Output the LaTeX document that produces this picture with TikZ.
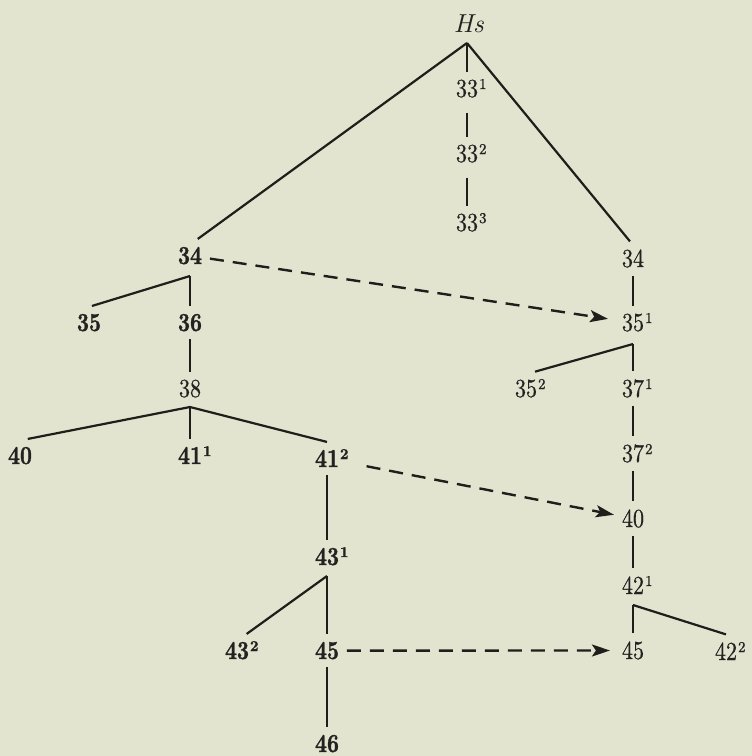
\documentclass[tikz,border=0pt]{standalone}
\usepackage{graphicx}
\usepackage{fontspec}
\setmainfont{lmroman10-regular.otf}[BoldFont=lmroman10-bold.otf, ItalicFont=lmroman10-italic.otf]
\newfontface\medface{lmroman10-regular.otf}[FakeBold=0.7]
\newfontface\hvyface{lmroman10-bold.otf}[FakeBold=1.3]
\usetikzlibrary{arrows.meta}
\definecolor{bgc}{HTML}{E3E4CF}
\definecolor{inkc}{HTML}{1E1E1A}
\definecolor{txtc}{HTML}{222220}
\newcommand\snum[2]{\scalebox{0.85}[1]{\medface #1}\rlap{\kern1pt\smash{\raisebox{8pt}{\fontsize{15}{18}\selectfont\medface #2}}}}
\newcommand\bnum[2]{\scalebox{0.8}[1]{\hvyface #1}\rlap{\kern1pt\smash{\raisebox{8pt}{\fontsize{15}{18}\selectfont\hvyface #2}}}}
\tikzset{
  lab/.style={inner xsep=8pt, inner ysep=8pt, outer sep=0pt, anchor=base,
              font=\fontsize{26}{30}\selectfont, text=txtc},
  conn/.style={line width=2.2pt, draw=inkc},
  dashconn/.style={line width=2.4pt, draw=inkc, dash pattern=on 14pt off 9pt,
                   -{Stealth[length=18pt,width=12pt,inset=4pt]}}
}
\begin{document}
\begin{tikzpicture}[x=1pt,y=-1pt]
\fill[bgc] (0,0) rectangle (752,756);
\useasboundingbox (0,0) rectangle (752,756);

% top
\node[lab] (hs) at (469,32) {\textit{Hs}};
\coordinate (aHs) at (467,43);
\node[lab] (n33a) at (467,97) {\snum{33}{1}};
\node[lab] (n33b) at (467,162) {\snum{33}{2}};
\node[lab] (n33c) at (467,231) {\snum{33}{3}};

% left tree
\node[lab] (n34L) at (190,264) {\bnum{34}{}};
\coordinate (a34L) at (190,276);
\node[lab] (n35L) at (89,331) {\bnum{35}{}};
\node[lab] (n36) at (190,331) {\bnum{36}{}};
\node[lab] (n38) at (190,397) {\snum{38}{}};
\coordinate (a38) at (190,407);
\node[lab] (n40L) at (20,464) {\bnum{40}{}};
\node[lab] (n41a) at (190,464) {\bnum{41}{1}};
\node[lab] (n41b) at (327,467) {\bnum{41}{2}};
\node[lab] (n43a) at (327,565) {\bnum{43}{1}};
\coordinate (a43) at (327,576);
\node[lab] (n43b) at (237,659) {\bnum{43}{2}};
\node[lab] (n45L) at (327,659) {\bnum{45}{}};
\node[lab] (n46) at (327,752) {\bnum{46}{}};

% right tree
\node[lab] (n34R) at (633,267) {\snum{34}{}};
\node[lab] (n35a) at (633,331) {\snum{35}{1}};
\coordinate (a35) at (633,344);
\node[lab] (n35b) at (526,397) {\snum{35}{2}};
\node[lab] (n37a) at (633,397) {\snum{37}{1}};
\node[lab] (n37b) at (633,462) {\snum{37}{2}};
\node[lab] (n40R) at (633,527) {\snum{40}{}};
\node[lab] (n42a) at (633,594) {\snum{42}{1}};
\coordinate (a42) at (633,605);
\node[lab] (n45R) at (633,659) {\snum{45}{}};
\node[lab] (n42b) at (726,660) {\snum{42}{2}};

% solid connectors
\draw[conn] (aHs) -- (n34L.65);
\draw[conn] (aHs) -- (n34R.100);
\draw[conn] (aHs) -- (n33a);
\draw[conn, shorten <=7pt] (n33a) -- (n33b);
\draw[conn, shorten <=7pt] (n33b) -- (n33c);

\draw[conn] (a34L) -- (n35L.80);
\draw[conn] (a34L) -- (n36);
\draw[conn] (n36) -- (n38);
\draw[conn] (a38) -- (n40L.65);
\draw[conn] (a38) -- (n41a);
\draw[conn] (a38) -- (n41b.north);
\draw[conn] (n41b) -- (n43a);
\draw[conn] (a43) -- (n43b.60);
\draw[conn] (a43) -- (n45L);
\draw[conn] (n45L) -- (n46);

\draw[conn] (n34R) -- (n35a);
\draw[conn] (a35) -- (n35b.62);
\draw[conn] (a35) -- (n37a);
\draw[conn] (n37a) -- (n37b);
\draw[conn] (n37b) -- (n40R);
\draw[conn] (n40R) -- (n42a);
\draw[conn] (a42) -- (n45R);
\draw[conn] (a42) -- (n42b.north);

% dashed arrows
\draw[dashconn, shorten >=6pt] (n34L) -- (n35a);
\draw[dashconn, shorten <=20pt] (n41b) -- (n40R);
\draw[dashconn, shorten >=4pt] (n45L) -- (n45R);
\end{tikzpicture}
\end{document}
